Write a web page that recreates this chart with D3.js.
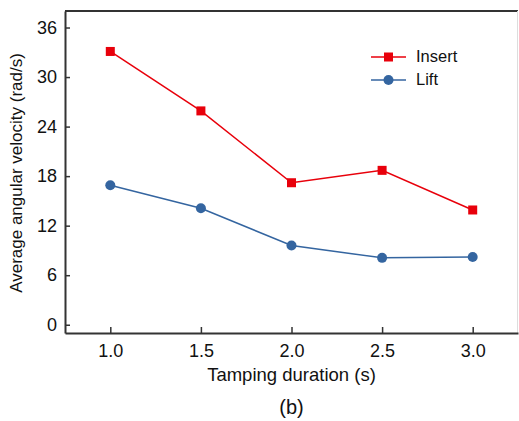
<!DOCTYPE html>
<meta charset="utf-8">
<style>
body { margin: 0; background: #fff; }
text { font-family: Arial, "Liberation Sans", sans-serif; fill: #111; }
</style>
<svg width="519" height="421"></svg>
<script src="https://d3js.org/d3.v7.min.js"></script>
<script>
// chart data
var durations = [1.0, 1.5, 2.0, 2.5, 3.0];
var insertVals = [33.1, 25.9, 17.2, 18.7, 13.9];
var liftVals = [16.9, 14.1, 9.6, 8.1, 8.2];
var xTicks = [1.0, 1.5, 2.0, 2.5, 3.0];
var yTicks = [0, 6, 12, 18, 24, 30, 36];

var svg = d3.select("svg");
var margin = {top: 11, right: 1, bottom: 88, left: 65};
var width = 519 - margin.left - margin.right,
    height = 421 - margin.top - margin.bottom;

var x = d3.scaleLinear().domain([0.75, 3.25]).range([margin.left, margin.left + width]);
var y = d3.scaleLinear().domain([-1, 38]).range([margin.top + height, margin.top]);

var g = svg.append("g");

// frame
g.append("line").attr("x1", x.range()[0]).attr("x2", x.range()[1])
  .attr("y1", margin.top).attr("y2", margin.top)
  .attr("stroke", "#333").attr("stroke-width", 2);
g.append("line").attr("x1", x.range()[1] - 0.5).attr("x2", x.range()[1] - 0.5)
  .attr("y1", margin.top).attr("y2", margin.top + height)
  .attr("stroke", "#ddd").attr("stroke-width", 1);

var xAxis = g.append("g")
  .attr("transform", "translate(0," + (margin.top + height) + ")")
  .call(d3.axisBottom(x).tickValues(xTicks).tickFormat(d3.format(".1f"))
    .tickSizeInner(-6).tickSizeOuter(0).tickPadding(11));
xAxis.attr("font-size", null).attr("font-family", null);
xAxis.selectAll("text").style("font-size", "18px");
xAxis.select(".domain").attr("stroke", "#333").attr("stroke-width", 2);
xAxis.selectAll(".tick line").attr("stroke", "#333").attr("stroke-width", 1.5);

var yAxis = g.append("g")
  .attr("transform", "translate(" + margin.left + ",0)")
  .call(d3.axisLeft(y).tickValues(yTicks).tickSizeInner(-5).tickSizeOuter(0).tickPadding(8));
yAxis.attr("font-size", null).attr("font-family", null);
yAxis.selectAll("text").style("font-size", "18px");
yAxis.select(".domain").attr("stroke", "#333").attr("stroke-width", 2);
yAxis.selectAll(".tick line").attr("stroke", "#333").attr("stroke-width", 1.5);

// axis titles
svg.append("text")
  .attr("transform", "translate(18," + (margin.top + height / 2 + 1) + ") rotate(-90)")
  .attr("text-anchor", "middle").attr("dominant-baseline", "middle")
  .style("font-size", "17px")
  .text("Average angular velocity (rad/s)");
svg.append("text")
  .attr("x", x(2.0)).attr("y", 381)
  .attr("text-anchor", "middle").style("font-size", "18.5px")
  .text("Tamping duration (s)");
svg.append("text")
  .attr("x", x(2.0)).attr("y", 414)
  .attr("text-anchor", "middle").style("font-size", "20px")
  .text("(b)");

var line = d3.line().x(function(d) { return x(d[0]); }).y(function(d) { return y(d[1]); });

var insertData = d3.zip(durations, insertVals);
var liftData = d3.zip(durations, liftVals);

g.append("path").datum(insertData).attr("d", line)
  .attr("fill", "none").attr("stroke", "#e8000b").attr("stroke-width", 1.5);
g.selectAll("rect.ins").data(insertData).enter().append("rect")
  .attr("class", "ins")
  .attr("x", function(d) { return x(d[0]) - 4.5; })
  .attr("y", function(d) { return y(d[1]) - 4.5; })
  .attr("width", 9).attr("height", 9)
  .attr("fill", "#e8000b");

g.append("path").datum(liftData).attr("d", line)
  .attr("fill", "none").attr("stroke", "#3465a0").attr("stroke-width", 1.5);
g.selectAll("circle.lift").data(liftData).enter().append("circle")
  .attr("class", "lift")
  .attr("cx", function(d) { return x(d[0]); })
  .attr("cy", function(d) { return y(d[1]); })
  .attr("r", 5).attr("fill", "#3465a0");

// legend
var legend = svg.append("g").attr("transform", "translate(371,57)");
var items = [
  {name: "Insert", color: "#e8000b", shape: "square"},
  {name: "Lift", color: "#3465a0", shape: "circle"}
];
items.forEach(function(it, i) {
  var row = legend.append("g").attr("transform", "translate(0," + (i * 23) + ")");
  row.append("line").attr("x1", 0).attr("x2", 35).attr("y1", 0).attr("y2", 0)
    .attr("stroke", it.color).attr("stroke-width", 1.5);
  if (it.shape === "square") {
    row.append("rect").attr("x", 13).attr("y", -4.5).attr("width", 9).attr("height", 9).attr("fill", it.color);
  } else {
    row.append("circle").attr("cx", 17.5).attr("cy", 0).attr("r", 5).attr("fill", it.color);
  }
  row.append("text").attr("x", 45).attr("y", 1).attr("dominant-baseline", "middle")
    .style("font-size", "16.5px").text(it.name);
});
</script>
